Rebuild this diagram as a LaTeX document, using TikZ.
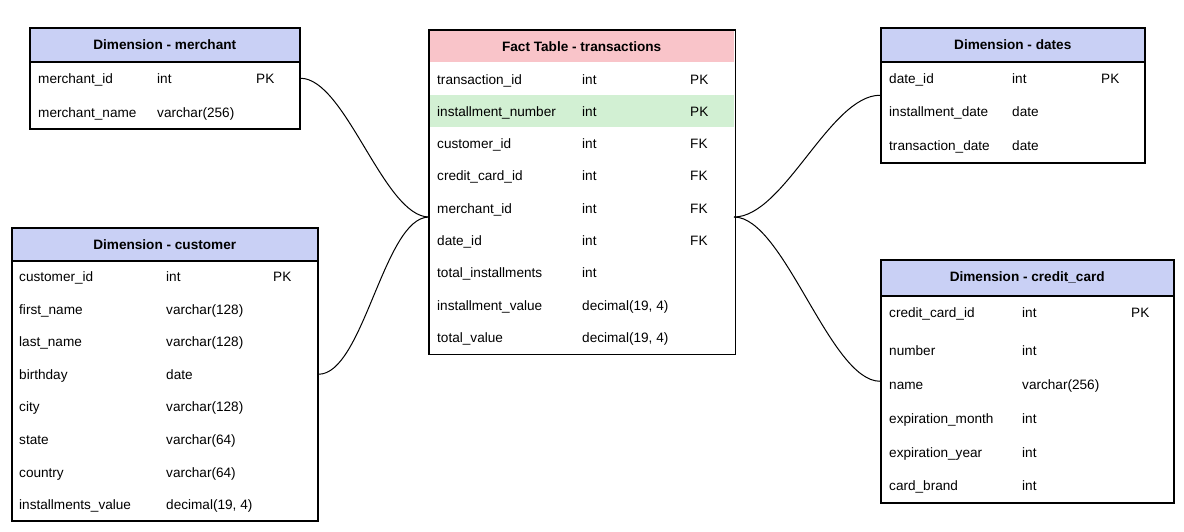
\documentclass[tikz,border=0pt]{standalone}
\usepackage{fontspec}
\setmainfont{Liberation Sans}
\definecolor{hdrblue}{HTML}{C9D0F5}
\definecolor{hdrpink}{HTML}{F9C4C9}
\definecolor{rowgreen}{HTML}{D2F0D3}
\tikzset{
  tbl/.style={draw=black, line width=1.5pt, fill=white, anchor=north west, inner sep=0pt},
  hdr/.style={draw=black, line width=1.5pt, fill=hdrblue, anchor=north west, inner sep=0pt, font=\fontsize{13.6}{15}\selectfont\bfseries},
  facthdr/.style={draw=none, fill=hdrpink, anchor=north west, inner sep=0pt, font=\fontsize{13.6}{15}\selectfont\bfseries},
  cell/.style={anchor=base west, yshift=-5.6pt, inner sep=0pt, font=\fontsize{13.6}{15}\selectfont, text=black},
  conn/.style={draw=black, line width=1pt},
}
\newcommand\trow[7]{\node[cell] (#1a) at (#3,#2) {#6}; \node[cell] (#1b) at (#4,#2) {#7};}
\newcommand\trowk[9]{\node[cell] (#1a) at (#3,#2) {#6}; \node[cell] (#1b) at (#4,#2) {#7}; \node[cell] (#1c) at (#5,#2) {#8#9};}
\begin{document}
\begin{tikzpicture}[x=1pt,y=-1pt]
\useasboundingbox (0,0) rectangle (1184,531);

% ---------------- merchant
\node[tbl, minimum width=270pt, minimum height=101pt] (merchant) at (29,27) {};
\node[hdr, minimum width=270pt, minimum height=34pt] (merchantH) at (29,27) {Dimension - merchant};
\trowk{ma}{78}{38}{157}{256}{merchant\_id}{int}{PK}{}
\trow{mb}{112}{38}{157}{0}{merchant\_name}{varchar(256)}

% ---------------- customer
\node[tbl, minimum width=306pt, minimum height=293pt] (customer) at (11,227) {};
\node[hdr, minimum width=306pt, minimum height=33pt] (customerH) at (11,227) {Dimension - customer};
\trowk{ca}{276}{19}{166}{273}{customer\_id}{int}{PK}{}
\trow{cb}{309}{19}{166}{0}{first\_name}{varchar(128)}
\trow{cc}{341}{19}{166}{0}{last\_name}{varchar(128)}
\trow{cd}{374}{19}{166}{0}{birthday}{date}
\trow{ce}{406}{19}{166}{0}{city}{varchar(128)}
\trow{cf}{439}{19}{166}{0}{state}{varchar(64)}
\trow{cg}{472}{19}{166}{0}{country}{varchar(64)}
\trow{ch}{504}{19}{166}{0}{installments\_value}{decimal(19, 4)}

% ---------------- fact
\node[tbl, draw=none, minimum width=305pt, minimum height=323pt] (fact) at (429,30) {};
\node[facthdr, minimum width=305pt, minimum height=32pt] (factH) at (429,30) {Fact Table - transactions};
\node[fill=rowgreen, anchor=north west, inner sep=0pt, minimum width=305pt, minimum height=32pt] (factG) at (429,95) {};
\draw[line width=1.5pt] (fact.north west) rectangle (fact.south east);
\trowk{fa}{79}{437}{582}{690}{transaction\_id}{int}{PK}{}
\trowk{fb}{111}{437}{582}{690}{installment\_number}{int}{PK}{}
\trowk{fc}{143}{437}{582}{690}{customer\_id}{int}{FK}{}
\trowk{fd}{175}{437}{582}{690}{credit\_card\_id}{int}{FK}{}
\trowk{fe}{208}{437}{582}{690}{merchant\_id}{int}{FK}{}
\trowk{ff}{240}{437}{582}{690}{date\_id}{int}{FK}{}
\trow{fg}{272}{437}{582}{0}{total\_installments}{int}
\trow{fh}{305}{437}{582}{0}{installment\_value}{decimal(19, 4)}
\trow{fi}{337}{437}{582}{0}{total\_value}{decimal(19, 4)}

% ---------------- dates
\node[tbl, minimum width=264pt, minimum height=135pt] (dates) at (880,27) {};
\node[hdr, minimum width=264pt, minimum height=34pt] (datesH) at (880,27) {Dimension - dates};
\trowk{da}{78}{889}{1012}{1101}{date\_id}{int}{PK}{}
\trow{db}{111}{889}{1012}{0}{installment\_date}{date}
\trow{dc}{145}{889}{1012}{0}{transaction\_date}{date}

% ---------------- credit card
\node[tbl, minimum width=293pt, minimum height=243pt] (credit) at (880,259) {};
\node[hdr, minimum width=293pt, minimum height=36pt] (creditH) at (880,259) {Dimension - credit\_card};
\trowk{ka}{312}{889}{1022}{1131}{credit\_card\_id}{int}{PK}{}
\trow{kb}{350}{889}{1022}{0}{number}{int}
\trow{kc}{384}{889}{1022}{0}{name}{varchar(256)}
\trow{kd}{418}{889}{1022}{0}{expiration\_month}{int}
\trow{ke}{452}{889}{1022}{0}{expiration\_year}{int}
\trow{kf}{485}{889}{1022}{0}{card\_brand}{int}

% ---------------- connectors
\coordinate (fL) at (429,217);
\coordinate (fR) at (734,217);
\draw[conn] (merchant.east) .. controls +(45,0) and +(-45,0) .. (fL);
\draw[conn] (customer.east) .. controls +(45,0) and +(-45,0) .. (fL);
\draw[conn] (fR) .. controls +(50,0) and +(-50,0) .. (dates.west);
\draw[conn] (fR) .. controls +(50,0) and +(-50,0) .. (credit.west);
\end{tikzpicture}
\end{document}
